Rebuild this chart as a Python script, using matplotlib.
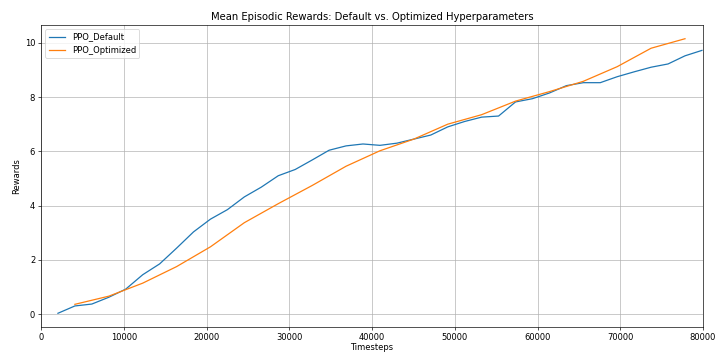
import matplotlib
matplotlib.use("Agg")
import matplotlib.pyplot as plt

# PPO logs every 2048 steps for default, 4096 for optimized
default_steps = [2048 * k for k in range(1, 40)]
default_rewards = [0.03, 0.30, 0.37, 0.62, 0.92, 1.45, 1.85, 2.43, 3.03, 3.50,
                   3.85, 4.32, 4.68, 5.10, 5.33, 5.68, 6.04, 6.20, 6.27, 6.22,
                   6.30, 6.45, 6.60, 6.90, 7.10, 7.26, 7.30, 7.82, 7.94, 8.15,
                   8.42, 8.53, 8.53, 8.75, 8.93, 9.10, 9.22, 9.52, 9.72]

optimized_steps = [4096 * k for k in range(1, 20)]
optimized_rewards = [0.36, 0.66, 1.14, 1.75, 2.48, 3.37, 4.07, 4.74, 5.45, 6.02,
                     6.45, 7.00, 7.35, 7.85, 8.20, 8.58, 9.12, 9.80, 10.15]


def main():
    fig = plt.figure(figsize=(722 / 60, 352 / 60), dpi=60)
    ax = fig.add_axes([41 / 722, 1 - 327 / 352, 662 / 722, 302 / 352])

    ax.plot(default_steps, default_rewards, label="PPO_Default")
    ax.plot(optimized_steps, optimized_rewards, label="PPO_Optimized")

    ax.set_xlim(0, 80000)
    ax.set_title("Mean Episodic Rewards: Default vs. Optimized Hyperparameters")
    ax.set_xlabel("Timesteps", labelpad=1)
    ax.set_ylabel("Rewards")
    ax.legend(loc="upper left")
    ax.grid(True)

    fig.savefig("out.png", dpi=60)


main()
